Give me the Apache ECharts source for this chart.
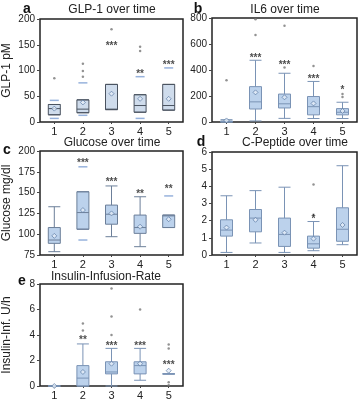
<!DOCTYPE html>
<html>
<head>
<meta charset="utf-8">
<script src="https://cdn.jsdelivr.net/npm/echarts@6/dist/echarts.min.js"></script>
<style>
  html, body { margin: 0; padding: 0; background: #fff; }
  #chart { width: 360px; height: 401px; }
</style>
</head>
<body>
<div id="chart"></div>
<script>
var categories = ['1', '2', '3', '4', '5'];

// a: GLP-1 (min, Q1, median, Q3, max)
var glpBoxes = [[14, 14, 26, 34, 34], [18, 18, 25, 43, 43], [24, 24, 25, 73, 73], [19, 19, 32, 53, 53], [23, 23, 32, 73, 73]];
var glpMeans = [26, 38, 55, 45, 45];
var glpCaps = [[0, 42], [0, 7], [1, 76], [1, 13], [3, 88], [3, 7], [4, 105]];
var glpOutliers = [[0, 85], [1, 113], [1, 99], [1, 88], [2, 180], [3, 138], [3, 146]];
var glpStars = [[2, 151, '***'], [3, 97, '**'], [4, 114, '***']];

// b: IL6
var ilBoxes = [[0, 0, 3, 8, 18], [8, 100, 155, 272, 475], [28, 108, 140, 215, 375], [27, 55, 118, 196, 312], [27, 55, 75, 103, 152]];
var ilMeans = [12, 228, 190, 143, 85];
var ilOutliers = [[0, 322], [1, 670], [1, 790], [2, 420], [2, 740], [3, 430], [4, 215], [4, 192]];
var ilStars = [[1, 505, '***'], [2, 450, '***'], [3, 345, '***'], [4, 258, '*']];

// c: Glucose
var gluBoxes = [[79, 89, 93, 108, 133], [106, 106, 126, 151, 151], [97, 112, 124, 135, 158], [85, 101, 108, 123, 145], [108, 108, 122, 123, 123]];
var gluMeans = [98, 129, 125, 109, 118];
var gluCaps = [[1, 181], [1, 93], [4, 146]];
var gluStars = [[1, 188, '***'], [2, 165, '***'], [3, 150, '**'], [4, 156, '**']];

// d: C-Peptide
var cpBoxes = [[0.15, 1.1, 1.45, 2.05, 3.45], [0.7, 1.35, 2.15, 2.65, 3.75], [0.15, 0.5, 1.2, 2.15, 3.95], [0.25, 0.4, 0.65, 1.1, 1.95], [0.6, 0.8, 1.5, 2.75, 5.2]];
var cpMeans = [1.6, 2.05, 1.3, 0.95, 1.75];
var cpOutliers = [[3, 4.1], [3, 2.35]];
var cpStars = [[3, 2.2, '*']];

// e: Insulin infusion rate
var insBoxes = [[0, 0, 0, 0, 0], [0, 0, 0.62, 1.6, 3.3], [0, 0.95, 1.1, 1.9, 2.95], [0.45, 0.95, 1.6, 1.9, 2.95], [0.95, 0.95, 0.95, 0.95, 0.95]];
var insMeans = [0, 1.1, 1.75, 1.75, 1.2];
var insOutliers = [[1, 4.9], [1, 4.35], [2, 7.65], [2, 5.45], [2, 4.0], [3, 6.0], [4, 3.25], [4, 2.95], [4, 0.3], [4, 0.05]];
var insStars = [[1, 3.75, '**'], [2, 3.3, '***'], [3, 3.3, '***'], [4, 1.75, '***']];

var FONT = 'Liberation Sans';

var panels = [
  { grid: { left: 38, top: 19, width: 145, height: 103 }, min: 0, max: 200, interval: 50, name: 'GLP-1 pM',
    boxes: glpBoxes, means: glpMeans, caps: glpCaps, outliers: glpOutliers, stars: glpStars,
    fill: '#cfdcec', border: '#4a5360' },
  { grid: { left: 212, top: 18, width: 145, height: 104 }, min: 0, max: 800, interval: 200, name: '',
    boxes: ilBoxes, means: ilMeans, caps: [], outliers: ilOutliers, stars: ilStars,
    fill: '#bcd2ec', border: '#7a93b5' },
  { grid: { left: 38, top: 151, width: 145, height: 104 }, min: 75, max: 200, interval: 25, name: 'Glucose mg/dl',
    boxes: gluBoxes, means: gluMeans, caps: gluCaps, outliers: [], stars: gluStars,
    fill: '#bcd2ec', border: '#6c7f99' },
  { grid: { left: 212, top: 152, width: 145, height: 103 }, min: 0, max: 6, interval: 1, name: '',
    boxes: cpBoxes, means: cpMeans, caps: [], outliers: cpOutliers, stars: cpStars,
    fill: '#bcd2ec', border: '#7a93b5' },
  { grid: { left: 38, top: 284, width: 145, height: 104 }, min: 0, max: 8, interval: 2, name: 'Insulin-Inf. U/h',
    boxes: insBoxes, means: insMeans, caps: [], outliers: insOutliers, stars: insStars,
    fill: '#bcd2ec', border: '#7a93b5' }
];

var titles = [
  ['GLP-1 over time', 112, 4], ['IL6 over time', 285, 4], ['Glucose over time', 112, 137],
  ['C-Peptide over time', 295, 137], ['Insulin-Infusion-Rate', 106, 271]
];
var letters = [['a', 27, 2], ['b', 198, 2], ['c', 7, 143], ['d', 201, 135], ['e', 22, 274]];

var option = { animation: false, textStyle: { fontFamily: FONT }, title: [], grid: [], xAxis: [], yAxis: [], series: [] };

titles.forEach(function (t) {
  option.title.push({ text: t[0], left: t[1], top: t[2], textAlign: 'center', padding: 0,
    textStyle: { fontSize: 12, fontWeight: 'normal', color: '#222', fontFamily: FONT } });
});
letters.forEach(function (t) {
  option.title.push({ text: t[0], left: t[1], top: t[2], textAlign: 'center', padding: 0,
    textStyle: { fontSize: 14, fontWeight: 'bold', color: '#111', fontFamily: FONT } });
});

panels.forEach(function (p, i) {
  var g = p.grid;
  option.grid.push({ left: g.left, top: g.top, width: g.width, height: g.height, show: true,
    borderColor: '#222', borderWidth: 1.5, backgroundColor: '#fff', containLabel: false });
  option.xAxis.push({ type: 'category', gridIndex: i, data: categories,
    axisLine: { show: false }, axisTick: { show: true, alignWithLabel: true, length: 2, lineStyle: { color: '#444' } },
    axisLabel: { fontSize: 11, color: '#222', margin: 4 }, splitLine: { show: false } });
  option.yAxis.push({ type: 'value', gridIndex: i, min: p.min, max: p.max, interval: p.interval,
    name: p.name, nameLocation: 'middle', nameGap: 27, nameRotate: 90,
    nameTextStyle: { fontSize: 12, color: '#222' },
    axisLine: { show: false }, axisTick: { show: true, length: 3, lineStyle: { color: '#444' } },
    axisLabel: { fontSize: 10, color: '#222', margin: 5 }, splitLine: { show: false } });

  option.series.push({ type: 'boxplot', xAxisIndex: i, yAxisIndex: i, data: p.boxes, boxWidth: [12, 12],
    itemStyle: { color: p.fill, borderColor: p.border, borderWidth: 1 } });
  option.series.push({ type: 'scatter', xAxisIndex: i, yAxisIndex: i, data: p.caps,
    symbol: 'rect', symbolSize: [9, 1.5], itemStyle: { color: '#7d9fd3' } });
  option.series.push({ type: 'scatter', xAxisIndex: i, yAxisIndex: i, data: p.outliers,
    symbol: 'circle', symbolSize: 2.5, itemStyle: { color: '#777' } });
  option.series.push({ type: 'scatter', xAxisIndex: i, yAxisIndex: i,
    data: p.means.map(function (v, k) { return [k, v]; }),
    symbol: 'diamond', symbolSize: 5, itemStyle: { color: '#e3ecf7', borderColor: '#4f6f9c', borderWidth: 0.8 } });
  option.series.push({ type: 'scatter', xAxisIndex: i, yAxisIndex: i,
    data: p.stars.map(function (s) { return { value: [s[0], s[1]], name: s[2] }; }),
    symbolSize: 1, itemStyle: { color: 'rgba(0,0,0,0)' },
    label: { show: true, position: 'inside', formatter: '{b}', fontSize: 10, fontWeight: 'bold', color: '#222', offset: [0, 2] } });
});

var chart = echarts.init(document.getElementById('chart'));
chart.setOption(option);
</script>
</body>
</html>
